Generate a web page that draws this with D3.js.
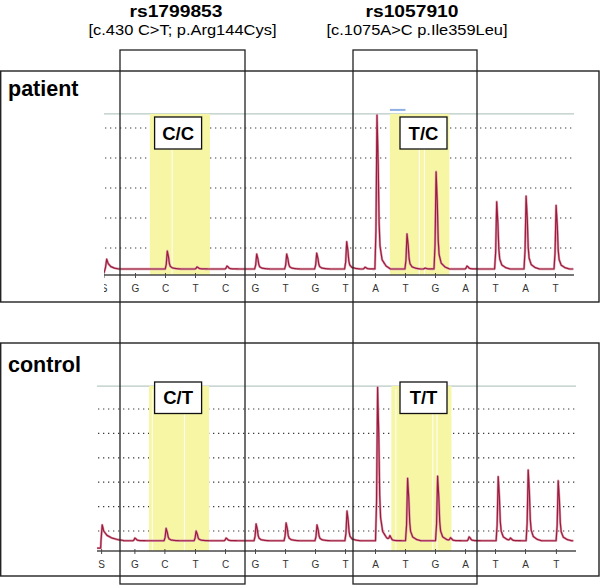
<!DOCTYPE html>
<html><head><meta charset="utf-8">
<script src="https://cdn.jsdelivr.net/npm/d3@7/dist/d3.min.js"></script>
<style>html,body{margin:0;padding:0;background:#fff;} svg{display:block;font-family:"Liberation Sans",Arial,Helvetica,sans-serif;}</style>
</head><body><svg id="c" width="600" height="585"></svg>
<script>
// ---------------- DATA ----------------
const bases = ["S","G","C","T","C","G","T","G","T","A","T","G","A","T","A","T"];
const patientTickPos = [-0.05,1,2,3,4,5,6,7,8,9,10,11,12,13,14,15];
const controlTickPos = [-0.13,0.98,1.98,3,4,5,6,7,8,9,10,11,12,13,14,15.03];

// peaks: [position (base units), signal height (grid units)]
const patientPeaks = [[2.06,0.90],[3.05,0.37],[4.05,0.40],[5.04,0.80],[6.04,0.80],[7.04,0.83],[8.04,1.21],[8.65,0.36],[9.05,5.43],[10.05,1.47],[10.65,0.33],[11.02,3.54],[12.05,0.40],[13.04,2.54],[14.02,2.73],[15.02,2.42]];
const controlPeaks = [[0.98,0.71],[2.02,1.11],[3.02,1.00],[4.02,0.71],[5.02,1.29],[6.02,1.33],[7.05,1.25],[8.05,1.82],[9.07,6.89],[9.48,0.78],[10.07,3.16],[11.07,3.25],[11.50,0.72],[12.12,0.76],[13.09,3.23],[13.50,0.70],[14.09,3.50],[15.09,3.06]];
const patientStart = [[-0.05,0.17],[0.0,0.35],[0.04,0.63],[0.09,0.48],[0.18,0.38],[0.3,0.33],[0.45,0.30]];
const controlStart = [[-0.28,0.30],[-0.16,0.30],[-0.15,0.6],[-0.11,1.25],[-0.06,1.0],[0.05,0.82],[0.2,0.72],[0.4,0.65],[0.6,0.61]];
const patientBaseline = 0.30, controlBaseline = 0.60;
const patientEnd = 15.6, controlEnd = 15.6;
const patientGrid = [1,2,3,4,5];
const controlGrid = [1,2,3,4,5,6];
const patientTopLine = 5.47, controlTopLine = 6.94;
const patientAxisLevel = 0.1, controlAxisLevel = 0.18;
const peakProfile = [[-0.07,0],[-0.035,0.25],[0,1],[0.04,0.68],[0.07,0.3],[0.1,0.15],[0.17,0.06],[0.3,0.02],[0.45,0]];

const snpIds = ["rs1799853","rs1057910"];
const snpChanges = ["[c.430 C>T; p.Arg144Cys]","[c.1075A>C p.Ile359Leu]"];
const panelNames = ["patient","control"];
const patientGenotypes = ["C/C","T/C"];
const controlGenotypes = ["C/T","T/T"];
const patientHighlights = [[1.48,3.48],[9.48,11.46]];
const controlHighlights = [[1.45,3.45],[9.53,11.53]];
const patientWhiteLines = [2.22,10.46,10.63];
const controlWhiteLines = [1.56,2.63,9.68,10.91,11.05];
const genotypeCenters = [2.42,10.6];
const patientMarker = [9.48,10.0];

// ---------------- LAYOUT ----------------
const svg = d3.select("#c");
const x = d3.scaleLinear().domain([0,15]).range([105.5,555.5]);

const panels = [
  {name:panelNames[0], top:71, bottom:302, left:104, right:574, y:d3.scaleLinear().domain([0,1]).range([278,248]),
   peaks:patientPeaks, start:patientStart, base:patientBaseline, end:patientEnd, grid:patientGrid, topLine:patientTopLine,
   axis:patientAxisLevel, ticks:patientTickPos, hl:patientHighlights, wl:patientWhiteLines, geno:patientGenotypes,
   boxTop:117, boxBot:149, nameY:95.5, labelY:291.5, marker:patientMarker},
  {name:panelNames[1], top:343, bottom:576, left:97, right:576, y:d3.scaleLinear().domain([0,1]).range([555.4,531]),
   peaks:controlPeaks, start:controlStart, base:controlBaseline, end:controlEnd, grid:controlGrid, topLine:controlTopLine,
   axis:controlAxisLevel, ticks:controlTickPos, hl:controlHighlights, wl:controlWhiteLines, geno:controlGenotypes,
   boxTop:382, boxBot:413.5, nameY:371.5, labelY:568, marker:null}
];

const prof = d3.scaleLinear().domain(peakProfile.map(d=>d[0])).range(peakProfile.map(d=>d[1])).clamp(true);

function tracePoints(p){
  const pts = p.start.slice();
  const x0 = pts[pts.length-1][0];
  let xs = d3.range(x0+0.005, p.end, 0.005);
  xs = xs.concat(p.peaks.map(d=>d[0])).sort((a,b)=>a-b);
  xs.forEach(xx=>{
    let v = p.base;
    p.peaks.forEach(([pos,h])=>{ v += (h-p.base)*prof(xx-pos); });
    pts.push([xx,v]);
  });
  return pts;
}

const defs = svg.append("defs");

panels.forEach((p,pi)=>{
  const g = svg.append("g");
  const y = p.y;
  defs.append("clipPath").attr("id","clip"+pi).append("rect")
    .attr("x",p.left).attr("y",p.top).attr("width",600-p.left).attr("height",p.bottom-p.top);
  const plot = g.append("g").attr("clip-path","url(#clip"+pi+")");

  plot.selectAll("line.grid").data(p.grid).enter().append("line")
    .attr("x1",p.left+1).attr("x2",p.right).attr("y1",d=>y(d)).attr("y2",d=>y(d))
    .attr("stroke","#3a3a3a").attr("stroke-width",1.2).attr("stroke-dasharray","1.3,3.7");
  plot.append("line").attr("x1",p.left).attr("x2",p.right).attr("y1",y(p.topLine)).attr("y2",y(p.topLine))
    .attr("stroke","#b9c9c6").attr("stroke-width",1.3);
  plot.selectAll("rect.hl").data(p.hl).enter().append("rect")
    .attr("x",d=>x(d[0])).attr("width",d=>x(d[1])-x(d[0]))
    .attr("y",y(p.topLine)).attr("height",y(p.axis)-y(p.topLine))
    .attr("fill","#f6f6a4");
  plot.selectAll("line.wl").data(p.wl).enter().append("line")
    .attr("x1",d=>x(d)).attr("x2",d=>x(d)).attr("y1",y(p.topLine)+3).attr("y2",y(p.axis))
    .attr("stroke","#ffffff").attr("stroke-width",1.1).attr("opacity",0.9);
  if(p.marker){
    plot.append("line").attr("x1",x(p.marker[0])).attr("x2",x(p.marker[1]))
      .attr("y1",y(p.topLine)-4).attr("y2",y(p.topLine)-4).attr("stroke","#8fb0e2").attr("stroke-width",2);
  }
  plot.append("line").attr("x1",p.left).attr("x2",p.right).attr("y1",y(p.axis)).attr("y2",y(p.axis))
    .attr("stroke","#4a4a4a").attr("stroke-width",1.5);
  plot.selectAll("line.tick").data(p.ticks).enter().append("line")
    .attr("x1",d=>x(d)).attr("x2",d=>x(d)).attr("y1",y(p.axis)-2).attr("y2",y(p.axis)+3)
    .attr("stroke","#4a4a4a").attr("stroke-width",1);
  plot.selectAll("text.base").data(p.ticks).enter().append("text")
    .attr("x",d=>x(d)).attr("y",p.labelY).attr("text-anchor","middle")
    .attr("font-size","10px").attr("fill","#333").text((d,i)=>bases[i]);
  const line = d3.line().x(d=>x(d[0])).y(d=>y(d[1]));
  const pts = tracePoints(p);
  plot.append("path").attr("d",line(pts)).attr("fill","none").attr("stroke","#dca0b0").attr("stroke-width",2.4).attr("stroke-linejoin","round");
  plot.append("path").attr("d",line(pts)).attr("fill","none").attr("stroke","#9c1b3d").attr("stroke-width",1.2).attr("stroke-linejoin","round");

  p.geno.forEach((gt,i)=>{
    const cx = x(genotypeCenters[i]);
    g.append("rect").attr("x",cx-23.5).attr("width",47).attr("y",p.boxTop).attr("height",p.boxBot-p.boxTop)
      .attr("fill","#fff").attr("stroke","#111").attr("stroke-width",1.3);
    g.append("text").attr("x",cx).attr("y",p.boxBot-9.5).attr("text-anchor","middle")
      .attr("font-size","18.5px").attr("font-weight","bold").attr("fill","#000").text(gt);
  });

  g.append("rect").attr("x",0.7).attr("y",p.top).attr("width",598.3).attr("height",p.bottom-p.top)
    .attr("fill","none").attr("stroke","#222").attr("stroke-width",1.4);
  g.append("text").attr("x",8).attr("y",p.nameY).attr("font-size","21.5px").attr("font-weight","bold").attr("fill","#000").text(p.name);
});

const snpBoxes = [[120,245],[353,477]];
const headerX = [176,412];
const subX = [182.5,417];
snpIds.forEach((id,i)=>{
  svg.append("rect").attr("x",snpBoxes[i][0]).attr("y",50).attr("width",snpBoxes[i][1]-snpBoxes[i][0]).attr("height",534)
    .attr("fill","none").attr("stroke","#222").attr("stroke-width",1.3);
  svg.append("text").attr("x",headerX[i]).attr("y",17).attr("text-anchor","middle")
    .attr("font-size","17px").attr("font-weight","bold").attr("fill","#000")
    .attr("textLength",93).attr("lengthAdjust","spacingAndGlyphs").text(id);
  svg.append("text").attr("x",subX[i]).attr("y",34.5).attr("text-anchor","middle")
    .attr("font-size","15px").attr("fill","#000")
    .attr("textLength",i===0?188:181).attr("lengthAdjust","spacingAndGlyphs").text(snpChanges[i]);
});
</script></body></html>
